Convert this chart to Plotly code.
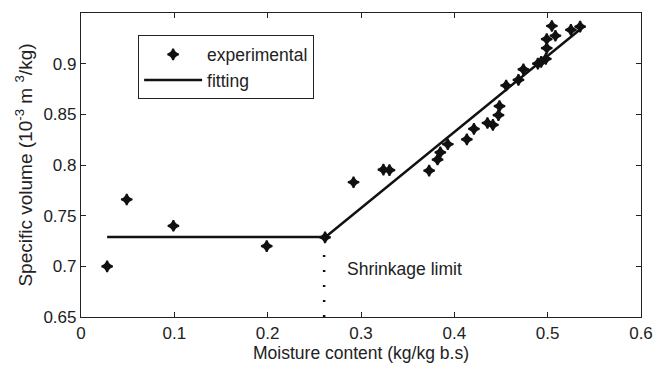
import plotly.graph_objects as go

# experimental data
moisture = [0.028, 0.049, 0.099, 0.199, 0.2615, 0.292, 0.324, 0.3305, 0.373, 0.382, 0.385,
            0.393, 0.4134, 0.421, 0.4355, 0.4413, 0.4473, 0.4484, 0.4555, 0.4687, 0.474,
            0.4895, 0.493, 0.498, 0.499, 0.499, 0.5045, 0.5083, 0.5249, 0.5348]
volume = [0.700, 0.766, 0.740, 0.720, 0.7286, 0.783, 0.7954, 0.795, 0.7944, 0.8054, 0.8125,
          0.8205, 0.8253, 0.8357, 0.8415, 0.8396, 0.8492, 0.8582, 0.8785, 0.884, 0.8944,
          0.900, 0.9018, 0.9047, 0.9153, 0.9243, 0.9372, 0.9276, 0.9334, 0.9366]

# fitting (piecewise linear)
fit_x = [0.028, 0.262, 0.535]
fit_y = [0.729, 0.729, 0.934]

# shrinkage limit marker
limit_x = [0.2605, 0.2605]
limit_y = [0.65, 0.716]

x_ticks = [0, 0.1, 0.2, 0.3, 0.4, 0.5, 0.6]
x_labels = ["0", "0.1", "0.2", "0.3", "0.4", "0.5", "0.6"]
y_ticks = [0.65, 0.7, 0.75, 0.8, 0.85, 0.9]
y_labels = ["0.65", "0.7", "0.75", "0.8", "0.85", "0.9"]

FONT = "Liberation Sans, Arial, sans-serif"
TXT = "#222"

fig = go.Figure()
fig.add_trace(go.Scatter(
    x=moisture, y=volume, mode="markers", name="experimental",
    marker=dict(symbol="star-diamond", size=8, color="#111",
                line=dict(color="#111", width=1.8)),
))
fig.add_trace(go.Scatter(
    x=fit_x, y=fit_y, mode="lines", name="fitting",
    line=dict(color="#111", width=2.5),
))
fig.add_trace(go.Scatter(
    x=limit_x, y=limit_y, mode="lines", showlegend=False,
    line=dict(color="#111", width=2.5, dash="2px,13px"),
))

fig.add_annotation(x=0.283, y=0.697, text="Shrinkage limit", showarrow=False,
                   xanchor="left", yanchor="middle",
                   font=dict(family=FONT, size=17.5, color=TXT))

axis_common = dict(
    showline=True, linecolor="#222", linewidth=1.2, mirror="ticks",
    ticks="inside", ticklen=5, tickcolor="#222", showgrid=False, zeroline=False,
    tickfont=dict(family=FONT, size=17, color=TXT),
)

fig.update_layout(
    width=668, height=369,
    margin=dict(l=81, r=27, t=12, b=47),
    paper_bgcolor="white", plot_bgcolor="white",
    font=dict(family=FONT, size=17.5, color=TXT),
    xaxis=dict(range=[0, 0.6], tickvals=x_ticks, ticktext=x_labels,
               title=dict(text="Moisture content (kg/kg b.s)", standoff=2,
                          font=dict(family=FONT, size=17.5, color=TXT)),
               **axis_common),
    yaxis=dict(range=[0.65, 0.95], tickvals=y_ticks, ticktext=y_labels,
               title=dict(text="Specific volume (10<sup>-3</sup> m <sup>3</sup>/kg)", standoff=5,
                          font=dict(family=FONT, size=19, color=TXT)),
               **axis_common),
    legend=dict(x=0.102, y=0.926, xanchor="left", yanchor="top",
                bgcolor="white", bordercolor="#222", borderwidth=1,
                font=dict(family=FONT, size=17.5, color=TXT),
                itemwidth=58, entrywidth=165, entrywidthmode="pixels",
                tracegroupgap=2),
    showlegend=True,
)

fig.write_html("out.html")
